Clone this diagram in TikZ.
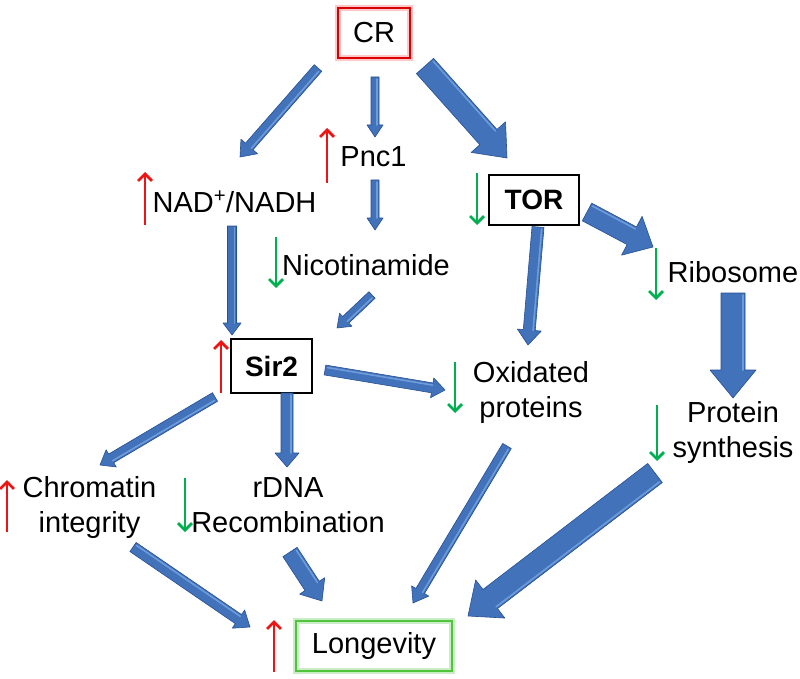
\documentclass[tikz,border=0pt]{standalone}
\usepackage{fontspec}
\setmainfont{Liberation Sans}
\usetikzlibrary{calc,arrows.meta}
\definecolor{ablue}{RGB}{66,114,186}
\definecolor{alight}{RGB}{110,156,218}
\definecolor{adark}{RGB}{38,80,148}
\definecolor{ured}{RGB}{238,20,20}
\definecolor{dgreen}{RGB}{0,176,80}
\definecolor{lgreen}{RGB}{80,196,60}
\newcommand\fatarrow[5]{%
  \coordinate (fah) at ($(#2)!#5!(#1)$);
  \filldraw[fat] ($(#1)!#3!90:(#2)$) -- ($(fah)!#3!90:(#2)$) -- ($(fah)!#4!90:(#2)$) -- (#2)
     -- ($(fah)!#4!-90:(#2)$) -- ($(fah)!#3!-90:(#2)$) -- ($(#1)!#3!-90:(#2)$) -- cycle;
  \coordinate (fas) at ($(#1)!2pt!(#2)$);
  \draw[alight, line width=1.6pt, line cap=round] ($(fas)!#3-2.2pt!90:(#2)$) -- ($(fah)!#3-2.2pt!90:(#2)$);
}
\tikzset{
  txt/.style={font=\fontsize{29}{35}\selectfont, inner sep=0pt, align=center, anchor=base},
  bx/.style={draw=black, line width=1.2pt, inner sep=0pt, font=\fontsize{28}{34}\selectfont\bfseries},
  fat/.style={fill=ablue, draw=adark, line width=0.6pt, line join=round},
  upind/.style={draw=ured, line width=2.8pt, -{Straight Barb[length=7pt,width=14pt]}},
  downind/.style={draw=dgreen, line width=2.8pt, -{Straight Barb[length=7pt,width=14pt]}},
}
\begin{document}
\begin{tikzpicture}[x=1pt,y=-1pt]
\useasboundingbox (0,0) rectangle (800,679);
% boxes
\draw[red!22, line width=6pt] (338,8) rectangle (410,58);
\node[draw=red!85!black, line width=1.5pt, minimum width=72pt, minimum height=50pt, inner sep=0pt,
      font=\fontsize{29}{35}\selectfont] (cr) at (374,33) {CR};
\draw[lgreen!30, line width=6pt] (296,621) rectangle (452,671);
\node[draw=lgreen, line width=1.5pt, minimum width=156pt, minimum height=50pt, inner sep=0pt,
      font=\fontsize{29}{35}\selectfont] (longv) at (374,646) {Longevity};
\node[bx, minimum width=81pt, minimum height=54pt] (sir) at (271.5,366) {Sir2};
\node[bx, minimum width=90pt, minimum height=50pt] (tor) at (534,200) {TOR};
% texts
\node[txt] (pnc) at (373.5,167) {Pnc1};
\node[txt] (nad) at (234.5,212) {NAD\textsuperscript{+}/NADH};
\node[txt] (nic) at (366,275) {Nicotinamide};
\node[txt] (ribo) at (733,282) {Ribosome};
\node[txt] (oxi) at (531,417) {Oxidated\\proteins};
\node[txt] (prot) at (733,457) {Protein\\synthesis};
\node[txt] (chrom) at (89.5,532) {Chromatin\\integrity};
\node[txt] (rdna) at (288,532) {rDNA\\Recombination};
% arrow end points
\coordinate (a1s) at (318,68);  \coordinate (a1e) at (240,157);
\coordinate (a2s) at (375,77);  \coordinate (a2e) at (375,137);
\coordinate (a3s) at (425,66);  \coordinate (a3e) at (507,158);
\coordinate (a4s) at (375,180); \coordinate (a4e) at (375,230);
\coordinate (a5s) at (232,226); \coordinate (a5e) at (232,335);
\coordinate (a6s) at (372,295); \coordinate (a6e) at (337,328);
\coordinate (a7s) at (538,227); \coordinate (a7e) at (528,345);
\coordinate (a8s) at (587,212); \coordinate (a8e) at (653,247);
\coordinate (a9s) at (733,293); \coordinate (a9e) at (733,398);
\coordinate (b1s) at (325,370); \coordinate (b1e) at (445,390);
\coordinate (b2s) at (215,397); \coordinate (b2e) at (100,465);
\coordinate (b3s) at (287,393); \coordinate (b3e) at (287,467);
\coordinate (b4s) at (133,547); \coordinate (b4e) at (250,627);
\coordinate (b5s) at (290,552); \coordinate (b5e) at (322,601);
\coordinate (b6s) at (507,446); \coordinate (b6e) at (413,603);
\coordinate (b7s) at (655,473); \coordinate (b7e) at (468,616);
\fatarrow{a1s}{a1e}{5pt}{11pt}{14pt}
\fatarrow{a2s}{a2e}{4pt}{8pt}{12pt}
\fatarrow{a3s}{a3e}{11.5pt}{23pt}{28pt}
\fatarrow{a4s}{a4e}{4pt}{8pt}{12pt}
\fatarrow{a5s}{a5e}{4.5pt}{9pt}{12pt}
\fatarrow{a6s}{a6e}{4.5pt}{9pt}{12pt}
\fatarrow{a7s}{a7e}{6pt}{12pt}{15pt}
\fatarrow{a8s}{a8e}{10pt}{22pt}{24pt}
\fatarrow{a9s}{a9e}{12pt}{23pt}{28pt}
\fatarrow{b1s}{b1e}{5pt}{10pt}{13pt}
\fatarrow{b2s}{b2e}{5pt}{10pt}{13pt}
\fatarrow{b3s}{b3e}{6pt}{12pt}{14pt}
\fatarrow{b4s}{b4e}{5.5pt}{11pt}{14pt}
\fatarrow{b5s}{b5e}{8.5pt}{15pt}{18pt}
\fatarrow{b6s}{b6e}{5pt}{10pt}{14pt}
\fatarrow{b7s}{b7e}{12pt}{24pt}{28pt}
% indicators
\coordinate (u1a) at (327,183); \coordinate (u1b) at (327,128);
\coordinate (u2a) at (145,225); \coordinate (u2b) at (145,172);
\coordinate (u3a) at (221,393); \coordinate (u3b) at (221,340);
\coordinate (u4a) at (7,532);   \coordinate (u4b) at (7,480);
\coordinate (u5a) at (274,672); \coordinate (u5b) at (274,620);
\draw[upind] (u1a) -- (u1b);
\draw[upind] (u2a) -- (u2b);
\draw[upind] (u3a) -- (u3b);
\draw[upind] (u4a) -- (u4b);
\draw[upind] (u5a) -- (u5b);
\coordinate (d1a) at (477,173); \coordinate (d1b) at (477,225);
\coordinate (d2a) at (276,237); \coordinate (d2b) at (276,288);
\coordinate (d3a) at (656,248); \coordinate (d3b) at (656,300);
\coordinate (d4a) at (455,362); \coordinate (d4b) at (455,413);
\coordinate (d5a) at (657,405); \coordinate (d5b) at (657,461);
\coordinate (d6a) at (185,478); \coordinate (d6b) at (185,532);
\draw[downind] (d1a) -- (d1b);
\draw[downind] (d2a) -- (d2b);
\draw[downind] (d3a) -- (d3b);
\draw[downind] (d4a) -- (d4b);
\draw[downind] (d5a) -- (d5b);
\draw[downind] (d6a) -- (d6b);
\end{tikzpicture}
\end{document}
